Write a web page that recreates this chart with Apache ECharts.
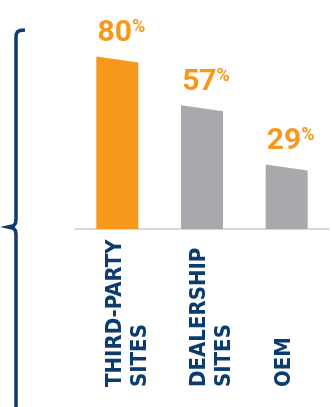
<!DOCTYPE html>
<html><head><meta charset="utf-8">
<script src="https://cdn.jsdelivr.net/npm/echarts@6/dist/echarts.min.js"></script>
<style>html,body{margin:0;padding:0;background:#fff}#c{width:332px;height:407px}</style>
</head><body><div id="c"></div>
<script>
const categories = ['THIRD-PARTY\nSITES', 'DEALERSHIP\nSITES', 'OEM'];
const values = [80, 57, 29];
const valueLabels = ['80', '57', '29'];

const ORANGE = '#F7981D', GRAY = '#A7A9AC', NAVY = '#0C3B6E';
const chart = echarts.init(document.getElementById('c'), null, {renderer: 'canvas'});
chart.setOption({
  animation: false,
  grid: {left: 75, right: 3, top: 17, bottom: 178},
  xAxis: {
    type: 'category', data: categories,
    axisLine: {lineStyle: {color: '#CCCCCC', width: 1.5}},
    axisTick: {show: false},
    axisLabel: {
      rotate: 90, align: 'left', verticalAlign: 'top', margin: 158, interval: 0,
      padding: [-15, 0, 0, 0],
      color: NAVY, fontFamily: "'Liberation Sans Narrow','DejaVu Sans Condensed',Roboto",
      fontWeight: 'bold', fontSize: 22, lineHeight: 25
    }
  },
  yAxis: {type: 'value', min: 0, max: 100, show: false, splitLine: {show: false}},
  graphic: [{
    type: 'polyline',
    shape: {points: [[25, 30], [20, 30.4], [17.5, 31.8], [16.3, 34], [16, 37], [16, 219], [15.6, 223], [13.5, 225.8], [8, 227], [13.5, 228.2], [15.6, 231], [16, 235], [16, 412]]},
    style: {stroke: NAVY, lineWidth: 3.5, fill: null}
  }],
  series: [{
    type: 'custom',
    data: values.map((v, i) => [i, v]),
    renderItem(params, api) {
      const i = api.value(0), v = api.value(1);
      const top = api.coord([i, v]);
      const base = api.coord([i, 0]);
      const half = 21, slant = 3;
      const cx = top[0];
      return {
        type: 'group',
        children: [
          {type: 'polygon',
           shape: {points: [[cx - half, top[1] - slant], [cx + half, top[1] + slant], [cx + half, base[1]], [cx - half, base[1]]]},
           style: {fill: i === 0 ? ORANGE : GRAY}},
          {type: 'text', x: cx + 4, y: top[1] - 11,
           style: {
             text: '{a|' + valueLabels[i] + '}{b|%}', align: 'center', verticalAlign: 'bottom',
             rich: {
               a: {fontFamily: 'Roboto', fontWeight: 'bold', fontSize: 30, fill: ORANGE, lineHeight: 30},
               b: {fontFamily: 'Roboto', fontWeight: 'bold', fontSize: 18, fill: ORANGE, verticalAlign: 'top', lineHeight: 30}
             }
           }}
        ]
      };
    }
  }]
});
</script>
</body></html>
